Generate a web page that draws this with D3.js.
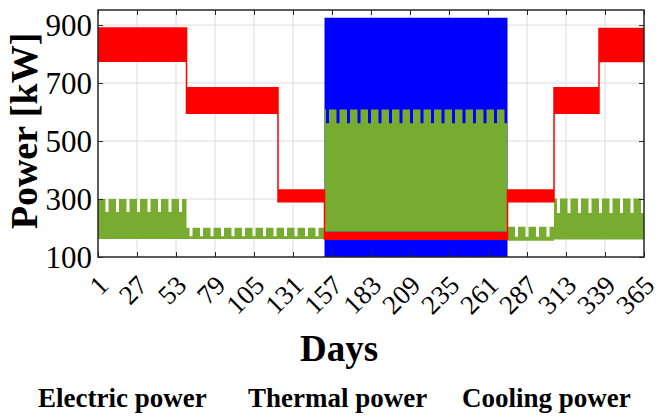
<!DOCTYPE html>
<html>
<head>
<meta charset="utf-8">
<script src="https://cdn.jsdelivr.net/npm/d3@7"></script>
<style>
  body { margin: 0; background: #fff; }
  text { font-family: "Liberation Serif", "Times New Roman", serif; fill: #000; }
</style>
</head>
<body>
<div id="chart"></div>
<script>
// first day of each month (day of year), year ends at 366
const monthStart = [1, 32, 60, 91, 121, 152, 182, 213, 244, 274, 305, 335]

// red band, kW
const thermalLow  = [775, 775, 596, 596, 291, 161, 161, 161, 161, 291, 596, 774]
const thermalHigh = [890, 890, 684, 684, 331, 184, 184, 184, 184, 331, 684, 888]

// green band, kW (lower top on weekends)
const electricLow         = [162, 162, 162, 162, 162, 187, 187, 187, 187, 156, 160, 160]
const electricHigh        = [300, 300, 201, 201, 201, 609, 609, 609, 609, 204, 302, 302]
const electricWeekendHigh = [255, 255, 172, 172, 172, 561, 561, 561, 561, 170, 252, 252]

// blue band, kW (summer only)
const coolingLow  = [null, null, null, null, null, 95, 95, 95, 95, null, null, null]
const coolingHigh = [null, null, null, null, null, 925, 925, 925, 925, null, null, null]

const xTicks = [1, 27, 53, 79, 105, 131, 157, 183, 209, 235, 261, 287, 313, 339, 365]
const yTicks = [100, 300, 500, 700, 900]
const legendLabels = ['Electric power', 'Thermal power', 'Cooling power']

const width = 662, height = 418
const plot = {left: 98, right: 644, top: 10, bottom: 257}

const svg = d3.select('#chart').append('svg')
  .attr('width', width)
  .attr('height', height)

svg.append('rect').attr('width', width).attr('height', height).attr('fill', '#fff')

const x = d3.scaleLinear().domain([1, 365]).range([plot.left, plot.right])
const y = d3.scaleLinear().domain([100, 952]).range([plot.bottom, plot.top])

// one row per day of 2018, with month index and weekend flag
const days = d3.range(1, 366).map(d => {
  const dow = new Date(2018, 0, d).getDay()
  return {day: d, m: d3.bisectRight(monthStart, d) - 1, weekend: dow === 0 || dow === 6}
})

function band(lo, hi) {
  const pts = days.filter(d => hi(d) != null)
    .map(d => ({x: d.day, lo: lo(d), hi: hi(d)}))
  const last = pts[pts.length - 1]
  pts.push({x: last.x + 1, lo: last.lo, hi: last.hi})
  return pts
}

const area = d3.area()
  .curve(d3.curveStepAfter)
  .x(p => x(p.x))
  .y0(p => y(p.lo))
  .y1(p => y(p.hi))

svg.append('clipPath').attr('id', 'clip')
  .append('rect')
    .attr('x', plot.left).attr('y', plot.top)
    .attr('width', plot.right - plot.left).attr('height', plot.bottom - plot.top)

// grid
const grid = svg.append('g').attr('class', 'grid')
  .attr('stroke', '#dcdcdc').attr('stroke-width', 1)
grid.selectAll('.gx').data(xTicks.slice(1, -1)).enter().append('line')
  .attr('x1', d => x(d)).attr('x2', d => x(d))
  .attr('y1', plot.top).attr('y2', plot.bottom)
grid.selectAll('.gy').data(yTicks.slice(1)).enter().append('line')
  .attr('x1', plot.left).attr('x2', plot.right)
  .attr('y1', d => y(d)).attr('y2', d => y(d))

const marks = svg.append('g').attr('clip-path', 'url(#clip)')

marks.append('path')
  .datum(band(d => coolingLow[d.m], d => coolingHigh[d.m]))
  .attr('fill', '#0000ff')
  .attr('d', area)

marks.append('path')
  .datum(band(d => electricLow[d.m], d => d.weekend ? electricWeekendHigh[d.m] : electricHigh[d.m]))
  .attr('fill', '#77ac30')
  .attr('d', area)

marks.append('path')
  .datum(band(d => thermalLow[d.m], d => thermalHigh[d.m]))
  .attr('fill', '#ff0000')
  .attr('stroke', '#ff0000')
  .attr('stroke-width', 1.5)
  .attr('d', area)

// axes: inward ticks on all four sides
function tidy(g) {
  g.select('.domain').remove()
  g.selectAll('.tick line').attr('stroke', '#262626')
}
svg.append('g').attr('transform', `translate(0,${plot.bottom})`)
  .call(d3.axisBottom(x).tickValues(xTicks).tickSize(-5).tickFormat(''))
  .call(tidy)
svg.append('g').attr('transform', `translate(0,${plot.top})`)
  .call(d3.axisTop(x).tickValues(xTicks).tickSize(-5).tickFormat(''))
  .call(tidy)
svg.append('g').attr('transform', `translate(${plot.left},0)`)
  .call(d3.axisLeft(y).tickValues(yTicks).tickSize(-5).tickFormat(''))
  .call(tidy)
svg.append('g').attr('transform', `translate(${plot.right},0)`)
  .call(d3.axisRight(y).tickValues(yTicks).tickSize(-5).tickFormat(''))
  .call(tidy)

svg.append('rect')
  .attr('x', plot.left).attr('y', plot.top)
  .attr('width', plot.right - plot.left).attr('height', plot.bottom - plot.top)
  .attr('fill', 'none')
  .attr('stroke', '#262626')
  .attr('stroke-width', 1.5)

// tick labels
svg.append('g').selectAll('text').data(yTicks).enter().append('text')
  .attr('x', plot.left - 6)
  .attr('y', d => y(d))
  .attr('dy', '0.36em')
  .attr('text-anchor', 'end')
  .style('font-size', '31px')
  .text(d => d)

svg.append('g').selectAll('text').data(xTicks).enter().append('text')
  .attr('transform', d => `translate(${x(d) + 12},287) rotate(-45)`)
  .attr('text-anchor', 'end')
  .style('font-size', '27px')
  .text(d => d)

// axis titles
svg.append('text')
  .attr('transform', 'translate(37,131) rotate(-90)')
  .attr('text-anchor', 'middle')
  .style('font-size', '38px')
  .style('font-weight', 'bold')
  .text('Power [kW]')

svg.append('text')
  .attr('x', 339).attr('y', 361)
  .attr('text-anchor', 'middle')
  .style('font-size', '37px')
  .style('font-weight', 'bold')
  .text('Days')

// legend (text only)
const legendX = [38, 248, 462]
svg.append('g').selectAll('text').data(legendLabels).enter().append('text')
  .attr('x', (d, i) => legendX[i])
  .attr('y', 407)
  .style('font-size', '27px')
  .style('font-weight', 'bold')
  .text(d => d)
</script>
</body>
</html>
